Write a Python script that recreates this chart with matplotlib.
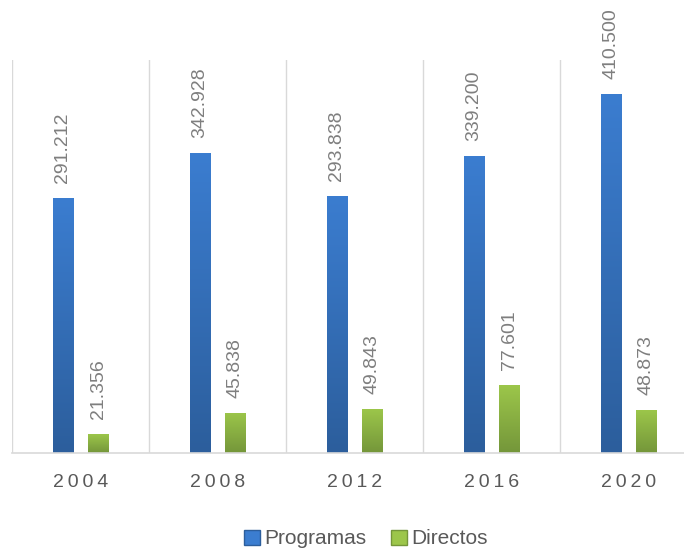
import numpy as np
import matplotlib
matplotlib.use("Agg")
import matplotlib.pyplot as plt
from matplotlib.patches import Patch
from matplotlib.colors import LinearSegmentedColormap

years = ["2004", "2008", "2012", "2016", "2020"]
programas = [291.212, 342.928, 293.838, 339.200, 410.500]
directos = [21.356, 45.838, 49.843, 77.601, 48.873]

blue_top, blue_bot = "#3b7dd0", "#2c5e9c"
green_top, green_bot = "#9cc64a", "#74963a"
grid_c = "#d9d9d9"
text_c = "#7f7f7f"

plt.rcParams['font.family'] = ['Liberation Sans', 'DejaVu Sans']

fig = plt.figure(figsize=(6.84, 5.51), dpi=100)
ax = fig.add_axes([12/684, 98/551, 685/684, 393/551])

x = np.arange(len(years))
w = 0.146
off = 0.128


def gradient_bars(xs, vals, top, bot):
    bars = ax.bar(xs, vals, width=w, color="none", zorder=2)
    cmap = LinearSegmentedColormap.from_list("g", [bot, top])
    grad = np.linspace(0, 1, 256).reshape(-1, 1)
    for b in bars:
        x0, y0 = b.get_x(), b.get_y()
        im = ax.imshow(grad, cmap=cmap, origin="lower", aspect="auto",
                       extent=[x0, x0 + b.get_width(), y0, y0 + b.get_height()],
                       zorder=2)
        im.set_clip_path(b)
    return bars


b1 = gradient_bars(x - off, programas, blue_top, blue_bot)
b2 = gradient_bars(x + off, directos, green_top, green_bot)

for bars, vals in ((b1, programas), (b2, directos)):
    for b, v in zip(bars, vals):
        ax.annotate("{:.3f}".format(v), (b.get_x() + b.get_width() / 2, v),
                    xytext=(0, 11), textcoords="offset points",
                    rotation=90, ha="center", va="bottom",
                    fontsize=14, color=text_c)

for gx in np.arange(-0.5, len(years) + 0.5, 1):
    ax.axvline(gx, color=grid_c, lw=1, zorder=0)

ax.set_xlim(-0.5, len(years) - 0.5)
ax.set_ylim(0, 449.3)
ax.set_xticks(x)
ax.set_xticklabels(["\u2009".join(y) for y in years], fontsize=14, color="#595959")
ax.tick_params(axis="x", length=0, pad=15)
ax.set_yticks([])
for s in ["left", "right", "top"]:
    ax.spines[s].set_visible(False)
ax.spines["bottom"].set_color(grid_c)
ax.spines["bottom"].set_linewidth(1.2)

handles = [Patch(facecolor=blue_top, edgecolor=blue_bot, label="Programas"),
           Patch(facecolor=green_top, edgecolor=green_bot, label="Directos")]
fig.legend(handles=handles, loc="center", bbox_to_anchor=(366/684, 1 - 539/551),
           ncol=2, frameon=False, fontsize=15, labelcolor="#595959",
           handlelength=0.75, handleheight=0.75, handletextpad=0.2, columnspacing=1.2)

fig.savefig("out.png", dpi=100)
